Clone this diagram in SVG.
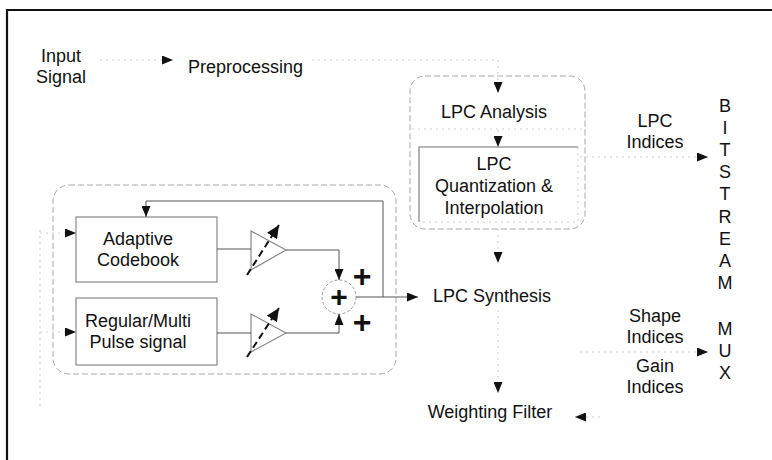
<svg xmlns="http://www.w3.org/2000/svg" width="772" height="460" viewBox="0 0 772 460">
<defs>
<style>
.t{font-family:"Liberation Sans",Arial,Helvetica,sans-serif;font-size:18px;fill:#111}
.m{text-anchor:middle}
.plus{font-family:"Liberation Sans",Arial,sans-serif;font-weight:bold;fill:#111;text-anchor:middle}
.faint{stroke:#cdcdcd;stroke-width:1;fill:none;stroke-dasharray:2 4}
.gray{stroke:#a8a8a8;stroke-width:1;fill:none;stroke-dasharray:6 3}
.box{stroke:#888;stroke-width:1.2;fill:none}
.ln{stroke:#555;stroke-width:1;fill:none}
.dash{stroke:#111;stroke-width:2;fill:none;stroke-dasharray:7 4}
</style>
<marker id="ah" markerUnits="userSpaceOnUse" markerWidth="12" markerHeight="9" refX="11" refY="4.5" orient="auto">
<path d="M0,0 L11,4.5 L0,9 Z" fill="#111"/>
</marker>
<marker id="ahd" markerUnits="userSpaceOnUse" markerWidth="14" markerHeight="12" refX="13" refY="6" orient="auto">
<path d="M0,0 L13,6 L0,12 Z" fill="#111"/>
</marker>
</defs>
<rect width="772" height="460" fill="#fff"/>
<path d="M7,460 V10 H772" stroke="#111" stroke-width="2.2" fill="none"/>

<g id="input-signal">
<text class="t m" x="61" y="62">Input</text>
<text class="t m" x="61" y="83">Signal</text>
</g>
<g id="preprocessing">
<text class="t" x="188" y="73">Preprocessing</text>
</g>
<g id="lpc-block">
<rect class="gray" x="410" y="76" width="175" height="153" rx="15"/>
<line class="faint" x1="412" y1="129" x2="583" y2="129"/>
<text class="t m" x="494" y="118">LPC Analysis</text>
</g>
<g id="lpc-quant">
<path d="M419,222 V147 H578" stroke="#a0a0a0" stroke-width="1.6" fill="none"/>
<path class="faint" d="M578,147 V222 H419"/>
<text class="t m" x="494" y="170">LPC</text>
<text class="t m" x="494" y="192">Quantization &amp;</text>
<text class="t m" x="494" y="214">Interpolation</text>
</g>
<g id="lpc-indices">
<text class="t m" x="655" y="127">LPC</text>
<text class="t m" x="655" y="148">Indices</text>
</g>
<g id="bitstream-mux">
<text class="t m" x="725" y="112">B</text>
<text class="t m" x="725" y="134">I</text>
<text class="t m" x="725" y="156">T</text>
<text class="t m" x="725" y="178">S</text>
<text class="t m" x="725" y="200">T</text>
<text class="t m" x="725" y="223">R</text>
<text class="t m" x="725" y="245">E</text>
<text class="t m" x="725" y="267">A</text>
<text class="t m" x="725" y="289">M</text>
<text class="t m" x="725" y="335">M</text>
<text class="t m" x="725" y="357">U</text>
<text class="t m" x="725" y="379">X</text>
</g>
<g id="excitation-block">
<rect class="gray" x="53" y="185" width="343" height="189" rx="16"/>
</g>
<g id="adaptive-codebook">
<rect class="box" x="76" y="217" width="141" height="65"/>
<text class="t m" x="138" y="245">Adaptive</text>
<text class="t m" x="138" y="266">Codebook</text>
</g>
<g id="regular-pulse">
<rect class="box" x="76" y="298" width="141" height="67"/>
<text class="t m" x="138" y="327">Regular/Multi</text>
<text class="t m" x="138" y="348">Pulse signal</text>
</g>
<g id="gain1">
<path class="box" d="M251,231 L286,250 L251,270 Z"/>
<line class="dash" x1="247" y1="275" x2="279" y2="225" marker-end="url(#ahd)"/>
</g>
<g id="gain2">
<path class="box" d="M251,314 L286,333 L251,352 Z"/>
<line class="dash" x1="247" y1="357" x2="279" y2="308" marker-end="url(#ahd)"/>
</g>
<g id="summer">
<circle cx="339" cy="297" r="17" stroke="#999" stroke-width="1" fill="none" stroke-dasharray="3 2"/>
<text class="plus" x="339" y="307" font-size="30">+</text>
<text class="plus" x="362" y="287" font-size="32">+</text>
<text class="plus" x="362" y="333" font-size="32">+</text>
</g>
<g id="lpc-synthesis">
<text class="t m" x="492" y="302">LPC Synthesis</text>
</g>
<g id="weighting-filter">
<text class="t m" x="490" y="418">Weighting Filter</text>
</g>
<g id="shape-gain-indices">
<text class="t m" x="655" y="322">Shape</text>
<text class="t m" x="655" y="343">Indices</text>
<text class="t m" x="655" y="372">Gain</text>
<text class="t m" x="655" y="393">Indices</text>
</g>

<g id="connectors">
<line class="faint" x1="100" y1="60" x2="173" y2="60" marker-end="url(#ah)"/>
<path class="faint" d="M312,60 H498 V93" marker-end="url(#ah)"/>
<line class="faint" x1="498" y1="130" x2="498" y2="147" marker-end="url(#ah)"/>
<line class="faint" x1="580" y1="157" x2="708" y2="157" marker-end="url(#ah)"/>
<line class="faint" x1="498" y1="229" x2="498" y2="263" marker-end="url(#ah)"/>
<line class="faint" x1="498" y1="310" x2="498" y2="393" marker-end="url(#ah)"/>
<line class="faint" x1="580" y1="352" x2="708" y2="352" marker-end="url(#ah)"/>
<line class="faint" x1="600" y1="417" x2="575" y2="417" marker-end="url(#ah)"/>
<line class="faint" x1="40" y1="230" x2="40" y2="410"/>
<line class="faint" x1="40" y1="233" x2="76" y2="233" marker-end="url(#ah)"/>
<line class="faint" x1="40" y1="332" x2="76" y2="332" marker-end="url(#ah)"/>
<line class="ln" x1="217" y1="249" x2="251" y2="249"/>
<line class="ln" x1="217" y1="333" x2="251" y2="333"/>
<path class="ln" d="M286,250 H339 V280" marker-end="url(#ah)"/>
<path class="ln" d="M286,333 H339 V314" marker-end="url(#ah)"/>
<line class="ln" x1="356" y1="297" x2="418" y2="297" marker-end="url(#ah)"/>
<path class="ln" d="M383,297 V201 H146 V217" marker-end="url(#ah)"/>
</g>
</svg>
